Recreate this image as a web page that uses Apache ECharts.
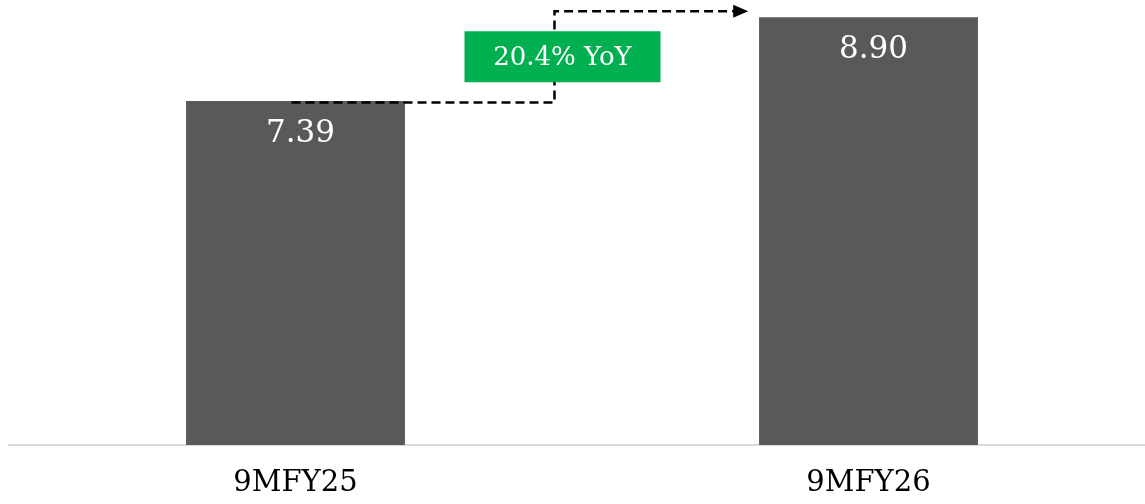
<!DOCTYPE html>
<html>
<head>
<meta charset="utf-8">
<script src="https://cdn.jsdelivr.net/npm/echarts@6/dist/echarts.min.js"></script>
<style>
  html, body { margin: 0; padding: 0; background: #ffffff; }
  #chart { width: 1145px; height: 504px; }
</style>
</head>
<body>
<div id="chart"></div>
<script>
// Period labels and the values shown on the bars
const categories = ['9MFY25', '9MFY26'];
const values = [7.39, 8.90];

// Value axis range (axis itself is hidden)
const axisMin = 1.2;
const axisMax = 9;

const FONT = 'DejaVu Serif';
const BAR_COLOR = '#595959';
const GROWTH_COLOR = '#00b050';

const chart = echarts.init(document.getElementById('chart'), null, { renderer: 'canvas' });

chart.setOption({
  animation: false,
  backgroundColor: '#ffffff',
  grid: { left: 9, top: 11.6, width: 1146, bottom: 59, containLabel: false, outerBoundsMode: 'none' },
  xAxis: {
    type: 'category',
    data: categories,
    axisLine: { show: true, lineStyle: { color: '#d9d9d9', width: 2 } },
    axisTick: { show: false },
    axisLabel: { color: '#000000', fontFamily: FONT, fontSize: 29, margin: 24 }
  },
  yAxis: {
    type: 'value',
    min: axisMin,
    max: axisMax,
    startValue: axisMin,
    show: false,
    splitLine: { show: false }
  },
  series: [{
    type: 'bar',
    data: values,
    barWidth: '38.2%',
    clip: true,
    itemStyle: { color: BAR_COLOR },
    label: {
      show: true,
      position: 'insideTop',
      distance: 17,
      offset: [5, 0],
      color: '#ffffff',
      fontFamily: FONT,
      fontSize: 31,
      formatter: p => p.value.toFixed(2)
    }
  }]
});

// Growth connector: dashed step line from the first bar to the second, with a YoY badge
function drawConnector() {
  const a = chart.convertToPixel({ xAxisIndex: 0, yAxisIndex: 0 }, [0, values[0]]);
  const b = chart.convertToPixel({ xAxisIndex: 0, yAxisIndex: 0 }, [1, values[1]]);
  const band = b[0] - a[0];
  const x0 = a[0] - 4;
  const y0 = a[1] + 1.5;
  const xv = a[0] + band * 0.452;
  const yTop = b[1] - 6;
  const xTip = b[0] - band * 0.21;
  const growth = ((values[1] / values[0] - 1) * 100).toFixed(1) + '% YoY';
  const boxW = 196, boxH = 51;
  const boxCx = xv + 8;
  const boxCy = (yTop + y0) / 2;

  chart.setOption({
    graphic: [
      {
        type: 'polyline',
        z: 10,
        shape: { points: [[x0, y0], [xv, y0], [xv, yTop], [xTip - 12, yTop]] },
        style: { stroke: '#000000', lineWidth: 2.5, lineDash: [9, 5], fill: null }
      },
      {
        type: 'polygon',
        z: 10,
        shape: { points: [[xTip - 15, yTop - 6.5], [xTip, yTop], [xTip - 15, yTop + 6.5]] },
        style: { fill: '#000000' }
      },
      {
        type: 'rect',
        z: 20,
        shape: { x: boxCx - boxW / 2, y: boxCy - boxH / 2, width: boxW, height: boxH },
        style: { fill: GROWTH_COLOR }
      },
      {
        type: 'text',
        z: 21,
        x: boxCx,
        y: boxCy + 1,
        style: {
          text: growth,
          fill: '#ffffff',
          font: '26px "' + FONT + '"',
          align: 'center',
          verticalAlign: 'middle'
        }
      }
    ]
  });
}
drawConnector();
</script>
</body>
</html>
